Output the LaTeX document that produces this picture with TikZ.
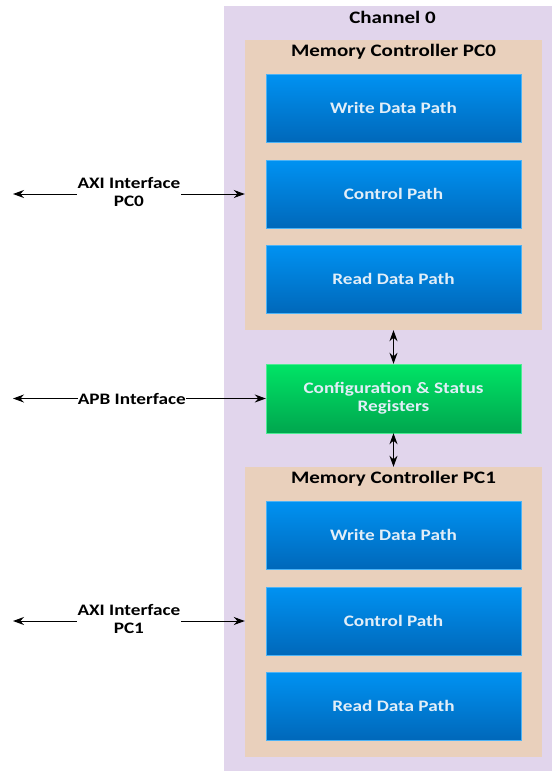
\documentclass[tikz,border=0pt]{standalone}
\usepackage{fontspec}
\setmainfont{Carlito}[FakeStretch=1.2]
\usetikzlibrary{arrows.meta,positioning,calc}
\definecolor{chanbg}{HTML}{E1D5EC}
\definecolor{mcbg}{HTML}{E9D0BC}
\definecolor{bluetop}{HTML}{0092F2}
\definecolor{bluebot}{HTML}{0068BA}
\definecolor{greentop}{HTML}{00E466}
\definecolor{greenbot}{HTML}{00A64E}
\definecolor{boxtext}{HTML}{E2EEF8}

\begin{document}
\begin{tikzpicture}[x=1pt,y=-1pt,
every node/.style={font=\bfseries\fontsize{16}{18}\selectfont},
chanbox/.style={fill=chanbg,minimum width=328pt,minimum height=765pt,inner sep=0pt},
mcbox/.style={fill=mcbg,minimum width=297pt,minimum height=290pt,inner sep=0pt},
pathbox/.style={top color=bluetop,bottom color=bluebot,draw=bluetop!70,
  text=boxtext,minimum width=255pt,minimum height=68pt,inner sep=0pt},
regbox/.style={top color=greentop,bottom color=greenbot,draw=greentop!70,
  text=boxtext,minimum width=255pt,minimum height=69pt,inner sep=0pt,align=center},
title/.style={font=\bfseries\fontsize{17.5}{20}\selectfont},
port/.style={fill=white,inner sep=1pt,align=center},
link/.style={{Stealth[length=11pt,width=8pt]}-{Stealth[length=11pt,width=8pt]},line width=1pt}]
\useasboundingbox (0,0) rectangle (552,772);
\node[chanbox] (CH) at (388,388.5) {};
\node[title] (CHt) at (392.5,17) {Channel 0};
% memory controller PC0
\node[mcbox] (MC0) at (393.5,185) {};
\node[title] (MC0t) at (393.5,52) {Memory Controller PC0};
\node[pathbox] (W0) at (393.5,108) {Write Data Path};
\node[pathbox] (C0) at (393.5,194) {Control Path};
\node[pathbox] (R0) at (393.5,279) {Read Data Path};
% registers
\node[regbox] (CSR) at (393.5,398.5) {Configuration \& Status\\Registers};
% memory controller PC1
\node[mcbox] (MC1) at (393.5,612) {};
\node[title] (MC1t) at (393.5,479) {Memory Controller PC1};
\node[pathbox] (W1) at (393.5,535) {Write Data Path};
\node[pathbox] (C1) at (393.5,621) {Control Path};
\node[pathbox] (R1) at (393.5,706) {Read Data Path};
% outside ports
\coordinate (E0) at (13,194);
\coordinate (E1) at (13,398.5);
\coordinate (E2) at (13,621);
\draw[link] (E0) -- (MC0.west |- E0) node[port,pos=0.5,yshift=2pt] (P0) {AXI Interface\\PC0};
\draw[link] (E1) -- (CSR.west) node[port,pos=0.47,inner sep=0pt] (P1) {APB Interface};
\draw[link] (E2) -- (MC1.west |- E2) node[port,pos=0.5,yshift=2pt] (P2) {AXI Interface\\PC1};
\draw[link] (MC0.south -| CSR) -- (CSR.north);
\draw[link] (CSR.south) -- (MC1.north -| CSR);
\end{tikzpicture}
\end{document}
